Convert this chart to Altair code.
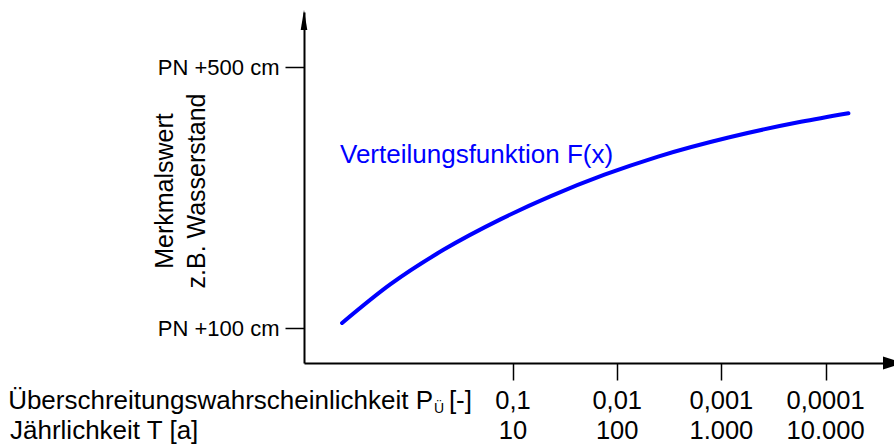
import altair as alt
import pandas as pd

# ---- data ----
# curve: return period T [a] (log axis) and level [cm above PN]
curve_T = [0.229, 0.663, 2.17, 7.65, 23.1, 75.5, 247, 1196, 5794, 16560]
curve_level = [107.7, 166.8, 220.2, 266.9, 302.1, 334.9, 362.8, 392.4, 416.0, 429.2]

tick_T = [10, 100, 1000, 10000]
tick_P_labels = ["0,1", "0,01", "0,001", "0,0001"]
tick_T_labels = ["10", "100", "1.000", "10.000"]

y_ticks = [100, 500]

FONT = "Liberation Sans"

curve_df = pd.DataFrame({"T": curve_T, "level": curve_level})
ticks_df = pd.DataFrame({"T": tick_T, "p": tick_P_labels, "t": tick_T_labels})

x_scale = alt.Scale(type="log", domain=[0.0987, 44360], nice=False)
y_scale = alt.Scale(domain=[46.4, 584.3], nice=False, zero=False)

x_axis = alt.Axis(
    values=tick_T, labels=False, title=None, grid=False,
    tickSize=17, tickWidth=1.5, tickColor="black",
    domainColor="black", domainWidth=2)

line = alt.Chart(curve_df).mark_line(
    color="#0000FF", strokeWidth=4, interpolate="monotone", strokeCap="round"
).encode(
    x=alt.X("T:Q", scale=x_scale, axis=x_axis),
    y=alt.Y("level:Q", scale=y_scale, axis=alt.Axis(
        values=y_ticks, labelExpr="'PN +' + datum.value + ' cm'", title=None, grid=False,
        tickSize=19, tickWidth=1.5, tickColor="black",
        domainColor="black", domainWidth=2,
        labelFont=FONT, labelFontSize=22, labelColor="black", labelPadding=6)),
)

num_font = 25.5
title_font = 26
row1_y = 397
row2_y = 427

p_labels = alt.Chart(ticks_df).mark_text(
    font=FONT, fontSize=num_font, color="black", align="center", baseline="alphabetic"
).encode(
    x=alt.X("T:Q", scale=x_scale, axis=x_axis),
    y=alt.value(row1_y),
    text="p:N",
)

t_labels = alt.Chart(ticks_df).mark_text(
    font=FONT, fontSize=num_font, color="black", align="center", baseline="alphabetic"
).encode(
    x=alt.X("T:Q", scale=x_scale, axis=x_axis),
    y=alt.value(row2_y),
    text="t:N",
)

def label(txt, x, y, size, align="left", angle=0, color="black", baseline="alphabetic"):
    return alt.Chart(pd.DataFrame({"t": [txt]})).mark_text(
        font=FONT, fontSize=size, color=color, align=align, baseline=baseline, angle=angle
    ).encode(x=alt.value(x), y=alt.value(y), text="t:N")

row1_main = label("Überschreitungswahrscheinlichkeit P", 129, row1_y, title_font, align="right")
row1_sub = label("Ü", 130, row1_y + 4, 14, align="left")
row1_end = label("[-]", 168, row1_y, title_font, align="right")
row2 = label("Jährlichkeit T [a]", -294, row2_y, title_font, align="left")

ytitle1 = label("Merkmalswert", -139, 179, 25, align="center", angle=270, baseline="middle")
ytitle2 = label("z.B. Wasserstand", -107, 179, 25, align="center", angle=270, baseline="middle")

curve_label = label("Verteilungsfunktion F(x)", 36, 151, 26, align="left", color="#0000FF")

arrow_up = alt.Chart(pd.DataFrame({"a": [0]})).mark_point(
    shape="M0,-1L0.33,1L-0.33,1Z", size=400, filled=True, color="black", opacity=1, strokeWidth=0
).encode(x=alt.value(0), y=alt.value(8))

arrow_right = alt.Chart(pd.DataFrame({"a": [0]})).mark_point(
    shape="M1,0L-1,-0.65L-1,0.65Z", size=400, filled=True, color="black", opacity=1, strokeWidth=0
).encode(x=alt.value(589), y=alt.value(351))

chart = alt.layer(
    line, p_labels, t_labels, row1_main, row1_sub, row1_end, row2,
    ytitle1, ytitle2, curve_label, arrow_up, arrow_right
).properties(
    width=589, height=351,
    autosize=alt.AutoSizeParams(type="none"),
    padding={"left": 304, "top": 12, "right": 1, "bottom": 83},
    background="white",
).configure_view(stroke=None)

chart.save("out.html", embed_options={"renderer": "svg", "actions": False})
